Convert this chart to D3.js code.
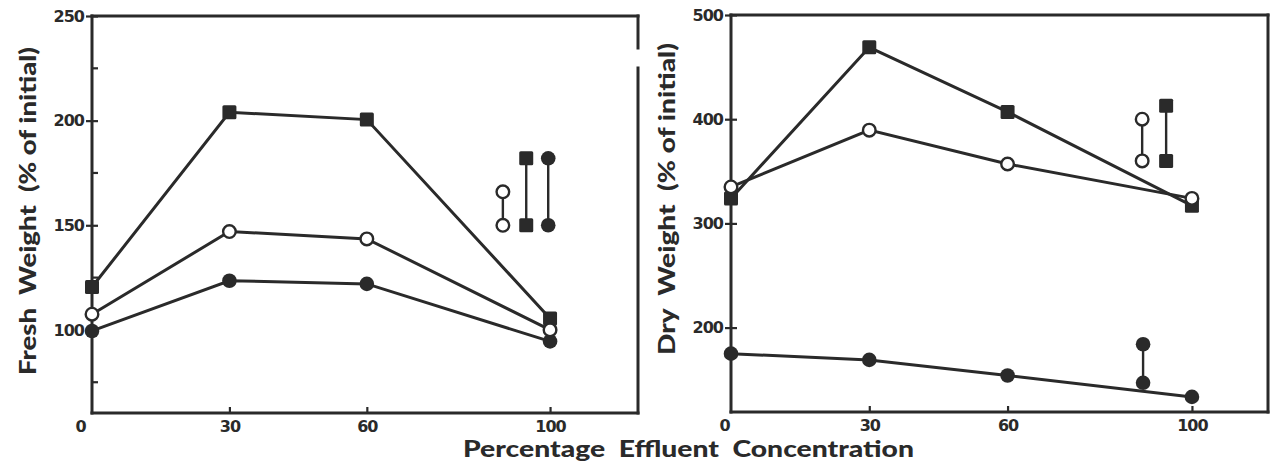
<!DOCTYPE html>
<html>
<head>
<meta charset="utf-8">
<script src="https://cdn.jsdelivr.net/npm/d3@7"></script>
<style>
  body { margin: 0; background: #fff; }
  svg text { fill: #2a2a2a; }
</style>
</head>
<body>
<svg width="1272" height="469"></svg>
<script>
// Données
const concentrations = [0, 30, 60, 100];

// Poids frais (% de l'initial)
const freshSquare = [120.5, 204, 200.5, 105.5];
const freshOpen   = [107.5, 147, 143.5, 100];
const freshFilled = [99.5, 123.5, 122, 94.5];

// Poids sec (% de l'initial)
const drySquare = [324, 469, 407, 317];
const dryOpen   = [335, 389.5, 357, 324];
const dryFilled = [175, 169, 154, 133.5];

// Barres (ppds) dessinées dans chaque panneau
const freshBars = [
    { x: 89.7, lo: 150, hi: 166, marker: "open" },
    { x: 94.8, lo: 150, hi: 182, marker: "square" },
    { x: 99.6, lo: 150, hi: 182, marker: "filled" }
];
const dryBars = [
    { x: 89.2, lo: 360, hi: 400, marker: "open" },
    { x: 94.4, lo: 360, hi: 413, marker: "square" },
    { x: 89.4, lo: 147, hi: 184, marker: "filled" }
];

const xTicks = [0, 30, 60, 100];
const freshTicks = [100, 150, 200, 250];
const freshMinor = [75, 125, 175, 225];
const dryTicks = [200, 300, 400, 500];

const ink = "#2a2a2a";
const svg = d3.select("svg");

function drawPanel(p) {
    const x = d3.scaleLinear().domain(p.xDomain).range(p.xRange);
    const y = d3.scaleLinear().domain(p.yDomain).range(p.yRange);
    const g = svg.append("g");

    // cadre
    const [x0, x1] = p.xRange, [yb, yt] = p.yRange;
    const frame = [[x0, yt, x1, yt], [x0, yt, x0, yb], [x0, yb, x1, yb]];
    p.rightSegments.forEach(s => frame.push([x1, s[0], x1, s[1]]));
    g.selectAll(".frame").data(frame).join("line")
        .attr("x1", d => d[0]).attr("y1", d => d[1])
        .attr("x2", d => d[2]).attr("y2", d => d[3])
        .attr("stroke", ink).attr("stroke-width", 3)
        .attr("stroke-linecap", "square");

    // axe Y
    const ya = g.append("g").attr("transform", `translate(${x0},0)`)
        .call(d3.axisLeft(y).tickValues(p.yTicks).tickSize(6).tickPadding(2));
    ya.select(".domain").remove();
    ya.selectAll(".tick line").attr("x1", 6).attr("stroke", ink).attr("stroke-width", 2.2);
    ya.selectAll(".tick text")
        .style("font-family", "DejaVu Sans").style("font-weight", "bold")
        .style("font-size", "16px").attr("letter-spacing", -1).attr("fill", ink);
    if (p.yMinor.length) {
        g.selectAll(".minor").data(p.yMinor).join("line")
            .attr("x1", x0).attr("x2", x0 + 6)
            .attr("y1", d => y(d)).attr("y2", d => y(d))
            .attr("stroke", ink).attr("stroke-width", 2.2);
    }

    // axe X
    const xa = g.append("g").attr("transform", `translate(0,${yb})`)
        .call(d3.axisBottom(x).tickValues(xTicks).tickSize(-6).tickPadding(8));
    xa.select(".domain").remove();
    xa.selectAll(".tick line").attr("stroke", ink).attr("stroke-width", 2.2)
        .attr("display", d => d === 0 ? "none" : null);
    xa.selectAll(".tick text")
        .style("font-family", "DejaVu Sans").style("font-weight", "bold")
        .style("font-size", "16px").attr("letter-spacing", -1).attr("fill", ink)
        .attr("x", d => d === 0 ? -p.zeroShift : 0);

    // titre Y
    g.append("text")
        .attr("transform", `translate(${p.titleX},${p.titleY}) rotate(-90)`)
        .attr("text-anchor", "middle").attr("dominant-baseline", "central")
        .attr("textLength", p.titleLen).attr("lengthAdjust", "spacingAndGlyphs")
        .style("font-family", "Lato").style("font-weight", "900").style("font-size", "23px")
        .attr("xml:space", "preserve")
        .text(p.title);

    // courbes
    const line = d3.line().x((d, i) => x(concentrations[i])).y(d => y(d));
    p.series.forEach(s => {
        g.append("path").datum(s.values)
            .attr("d", line).attr("fill", "none")
            .attr("stroke", ink).attr("stroke-width", 3);
    });

    // barres
    g.selectAll(".bar").data(p.bars).join("line")
        .attr("x1", d => x(d.x)).attr("x2", d => x(d.x))
        .attr("y1", d => y(d.lo)).attr("y2", d => y(d.hi))
        .attr("stroke", ink).attr("stroke-width", 2.4);

    const pts = [];
    p.series.forEach(s => s.values.forEach((v, i) => pts.push({ cx: x(concentrations[i]), cy: y(v), marker: s.marker })));
    p.bars.forEach(b => {
        pts.push({ cx: x(b.x), cy: y(b.lo), marker: b.marker });
        pts.push({ cx: x(b.x), cy: y(b.hi), marker: b.marker });
    });
    drawMarkers(g, pts);
}

function drawMarkers(g, pts) {
    g.selectAll(".sq").data(pts.filter(d => d.marker === "square")).join("rect")
        .attr("x", d => d.cx - 7).attr("y", d => d.cy - 7)
        .attr("width", 14).attr("height", 14).attr("rx", 1.5)
        .attr("fill", ink);
    g.selectAll(".fc").data(pts.filter(d => d.marker === "filled")).join("circle")
        .attr("cx", d => d.cx).attr("cy", d => d.cy).attr("r", 7.3)
        .attr("fill", ink);
    g.selectAll(".oc").data(pts.filter(d => d.marker === "open")).join("circle")
        .attr("cx", d => d.cx).attr("cy", d => d.cy).attr("r", 6.3)
        .attr("fill", "#fff").attr("stroke", ink).attr("stroke-width", 2.4);
}

drawPanel({
    xDomain: [0, 119.2], xRange: [92, 638],
    yDomain: [60.3, 250], yRange: [413, 16],
    yTicks: freshTicks, yMinor: freshMinor,
    rightSegments: [[16, 48], [68, 413]],
    zeroShift: 12,
    title: "Fresh  Weight  (% of initial)", titleX: 27, titleY: 211, titleLen: 328,
    series: [
        { values: freshOpen, marker: "open" },
        { values: freshFilled, marker: "filled" },
        { values: freshSquare, marker: "square" }
    ],
    bars: freshBars
});

drawPanel({
    xDomain: [0, 116.5], xRange: [731, 1268],
    yDomain: [119, 500], yRange: [412, 15],
    yTicks: dryTicks, yMinor: [],
    rightSegments: [[15, 412]],
    zeroShift: 7,
    title: "Dry  Weight  (% of initial)", titleX: 666, titleY: 199, titleLen: 312,
    series: [
        { values: dryOpen, marker: "open" },
        { values: dryFilled, marker: "filled" },
        { values: drySquare, marker: "square" }
    ],
    bars: dryBars
});

// titre X commun
svg.append("text")
    .attr("x", 463).attr("y", 457)
    .attr("textLength", 451).attr("lengthAdjust", "spacingAndGlyphs")
    .attr("xml:space", "preserve")
    .style("font-family", "Lato").style("font-weight", "900").style("font-size", "22px")
    .text("Percentage  Effluent  Concentration");
</script>
</body>
</html>
